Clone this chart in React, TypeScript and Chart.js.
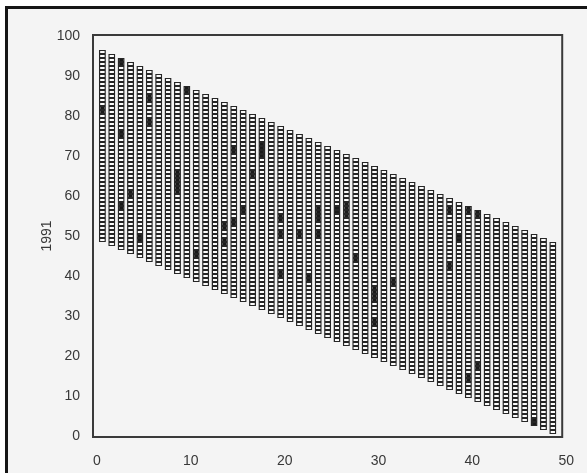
import React, { useEffect, useRef } from "react";
import { Chart, registerables } from "chart.js";

Chart.register(...registerables);

// Sampling positions along the horizontal axis (one column of cells each)
const columns = [
  1, 2, 3, 4, 5, 6, 7, 8, 9, 10, 11, 12, 13, 14, 15, 16, 17, 18, 19, 20, 21, 22, 23, 24, 25,
  26, 27, 28, 29, 30, 31, 32, 33, 34, 35, 36, 37, 38, 39, 40, 41, 42, 43, 44, 45, 46, 47, 48, 49,
];

// Highest and lowest cell value in every column
const columnTop = [
  96, 95, 94, 93, 92, 91, 90, 89, 88, 87, 86, 85, 84, 83, 82, 81, 80, 79, 78, 77, 76, 75, 74, 73, 72,
  71, 70, 69, 68, 67, 66, 65, 64, 63, 62, 61, 60, 59, 58, 57, 56, 55, 54, 53, 52, 51, 50, 49, 48,
];
const columnBottom = [
  49, 48, 47, 46, 45, 44, 43, 42, 41, 40, 39, 38, 37, 36, 35, 34, 33, 32, 31, 30, 29, 28, 27, 26, 25,
  24, 23, 22, 21, 20, 19, 18, 17, 16, 15, 14, 13, 12, 11, 10, 9, 8, 7, 6, 5, 4, 3, 2, 1,
];

// Runs of filled (black) cells: column, first value, last value
const filledColumn = [1, 3, 3, 3, 4, 5, 6, 6, 9, 10, 11, 14, 14, 15, 15, 16, 17, 18, 20, 20, 20, 22, 23, 24, 24, 26, 27, 28, 30, 30, 32, 38, 38, 39, 40, 40, 41, 41, 47];
const filledFrom = [81, 93, 75, 57, 60, 49, 84, 78, 61, 86, 45, 52, 48, 71, 53, 56, 65, 70, 54, 50, 40, 50, 39, 54, 50, 56, 55, 44, 34, 28, 38, 56, 42, 49, 56, 14, 55, 17, 3];
const filledTo = [82, 94, 76, 58, 61, 50, 85, 79, 66, 87, 46, 53, 49, 72, 54, 57, 66, 73, 55, 51, 41, 51, 40, 57, 51, 57, 58, 45, 37, 29, 39, 57, 43, 50, 57, 15, 56, 18, 4];

const xTickValues = [0, 10, 20, 30, 40, 50];
const yTickValues = [0, 10, 20, 30, 40, 50, 60, 70, 80, 90, 100];
const yAxisTitle = "1991";

const FONT = "'Liberation Sans', Arial, sans-serif";
const TEXT = "#383838";
const EDGE = "#262626";

const filledSet = new Set<string>();
filledColumn.forEach((c, i) => {
  for (let v = filledFrom[i]; v <= filledTo[i]; v++) filledSet.add(c + ":" + v);
});

// One dataset per row of cells; each bar is a single cell [v-0.5, v+0.5]
function buildDatasets() {
  const rows = Math.max(...columnTop.map((t, i) => t - columnBottom[i] + 1));
  const sets = [];
  for (let j = 0; j < rows; j++) {
    const data: any[] = [];
    columns.forEach((c, i) => {
      const v = columnBottom[i] + j;
      if (v <= columnTop[i]) data.push({ x: c, y: [v - 0.5, v + 0.5], v });
    });
    sets.push({
      label: "row " + j,
      data,
      grouped: false,
      barThickness: 7,
      borderWidth: { top: 1, bottom: 1, left: 1.5, right: 1.5 },
      borderSkipped: false,
      inflateAmount: 0,
      borderColor: EDGE,
      backgroundColor: (ctx: any) =>
        ctx.raw && filledSet.has(ctx.raw.x + ":" + ctx.raw.v) ? "#1a1a1a" : "#fbfbfb",
    });
  }
  return sets;
}

const frameBox = {
  id: "frameBox",
  afterDatasetsDraw(chart: any) {
    const { ctx, chartArea } = chart;
    ctx.save();
    ctx.strokeStyle = "#3a3a3a";
    ctx.lineWidth = 2;
    ctx.strokeRect(chartArea.left, chartArea.top - 1, chartArea.right - chartArea.left, chartArea.bottom - chartArea.top + 2);
    ctx.restore();
  },
};

export default function App() {
  const canvasRef = useRef<HTMLCanvasElement | null>(null);

  useEffect(() => {
    if (!canvasRef.current) return;
    const chart = new Chart(canvasRef.current, {
      type: "bar",
      data: { datasets: buildDatasets() as any },
      options: {
        animation: false,
        responsive: false,
        devicePixelRatio: 1,
        layout: { padding: { left: 39, top: 36, right: 14, bottom: 0 } },
        plugins: { legend: { display: false }, tooltip: { enabled: false }, title: { display: false } },
        scales: {
          x: {
            type: "linear",
            min: 0,
            max: 50,
            offset: false,
            grid: { display: false, offset: false, drawTicks: false },
            border: { display: false },
            afterBuildTicks: (s: any) => {
              s.ticks = xTickValues.map((value) => ({ value }));
            },
            afterFit: (s: any) => {
              s.height = 37;
            },
            ticks: {
              font: { family: FONT, size: 14 },
              color: TEXT,
              padding: 17,
              labelOffset: 4,
              maxRotation: 0,
            },
          },
          y: {
            type: "linear",
            min: 0,
            max: 100,
            grid: { display: false, drawTicks: false },
            border: { display: false },
            afterBuildTicks: (s: any) => {
              s.ticks = yTickValues.map((value) => ({ value }));
            },
            afterFit: (s: any) => {
              s.width = 54;
            },
            ticks: {
              font: { family: FONT, size: 14 },
              color: TEXT,
              padding: 13,
            },
            title: {
              display: true,
              text: yAxisTitle,
              font: { family: FONT, size: 14 },
              color: TEXT,
              padding: { top: 0, bottom: 0 },
            },
          },
        },
      },
      plugins: [frameBox],
    });
    return () => chart.destroy();
  }, []);

  return (
    <div
      style={{
        position: "fixed",
        left: 0,
        top: 0,
        width: 587,
        height: 473,
        background: "#ffffff",
        overflow: "hidden",
      }}
    >
      <div
        style={{
          position: "absolute",
          left: 5,
          top: 6,
          width: 600,
          height: 480,
          borderLeft: "3px solid #151515",
          borderTop: "3px solid #151515",
          background: "#f4f4f4",
        }}
      />
      <canvas
        ref={canvasRef}
        width={587}
        height={473}
        style={{ position: "absolute", left: 0, top: 0, width: 587, height: 473 }}
      />
    </div>
  );
}
